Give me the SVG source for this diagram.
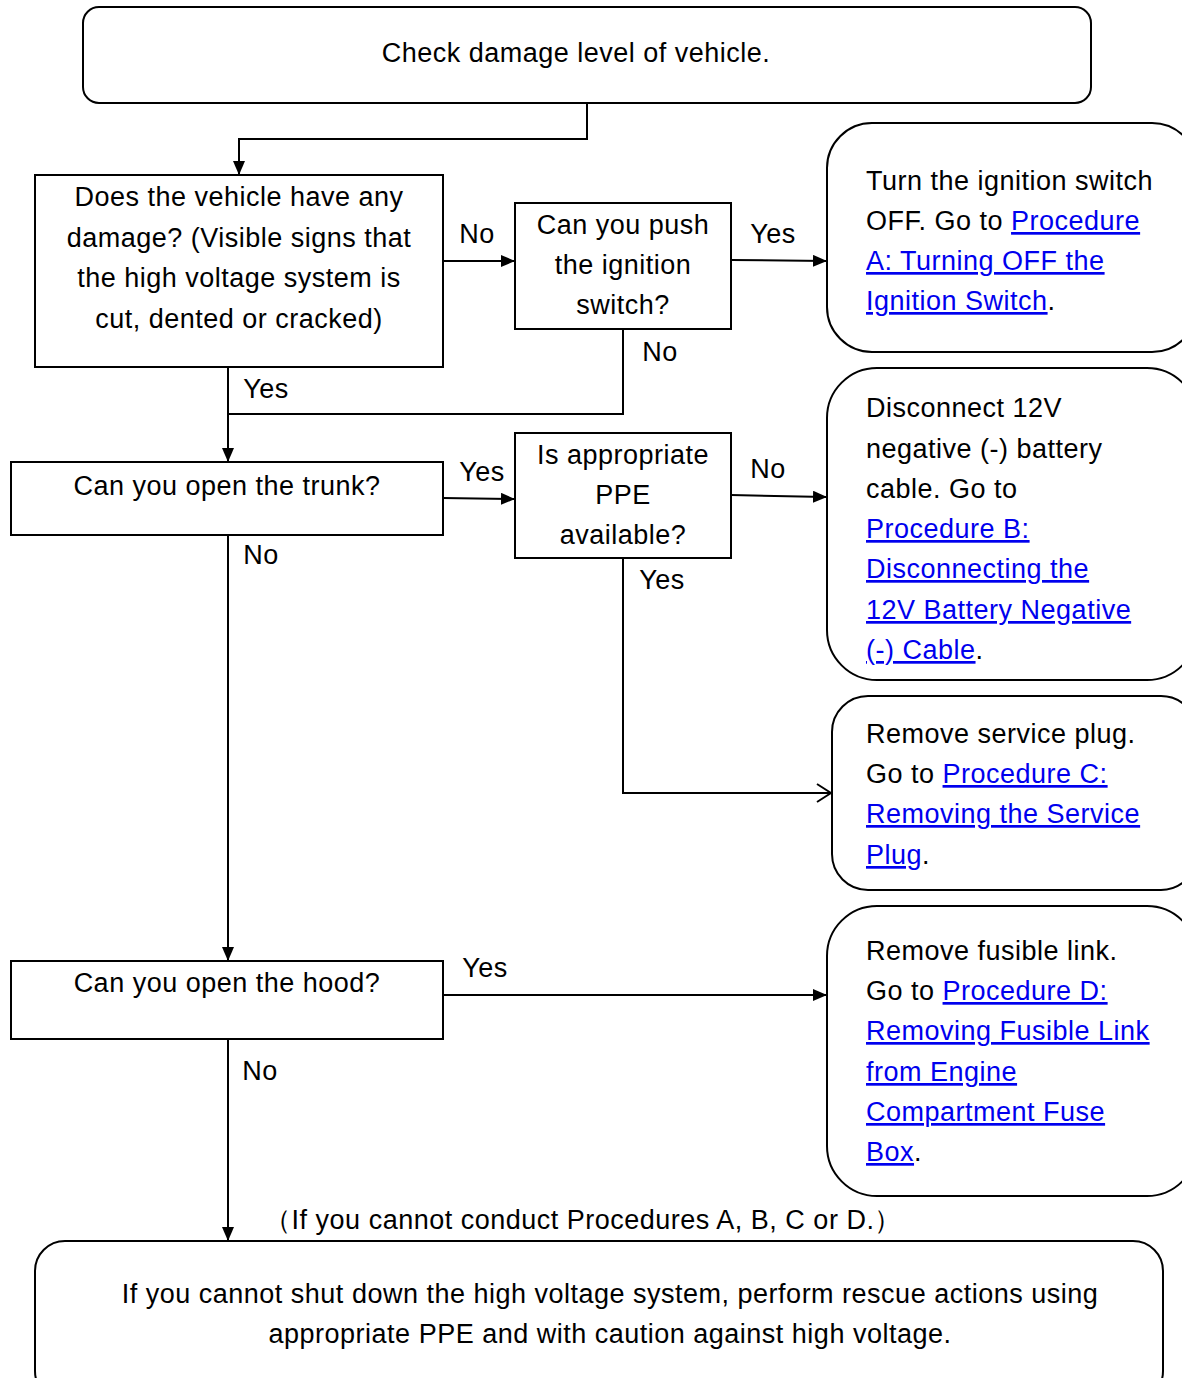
<svg xmlns="http://www.w3.org/2000/svg" width="1182" height="1378" viewBox="0 0 1182 1378">
<style>
text{font-family:"Liberation Sans",Arial,sans-serif;font-size:27px;letter-spacing:0.5px;fill:#000}
.c{text-anchor:middle}
.lk{fill:#0000ee;text-decoration:underline}
.box{fill:#fff;stroke:#000;stroke-width:2}
.ln{fill:none;stroke:#000;stroke-width:2}
</style>
<defs>
<marker id="ah" markerWidth="14" markerHeight="12" refX="13" refY="6" orient="auto" markerUnits="userSpaceOnUse">
<path d="M0,0 L14,6 L0,12 Z" fill="#000"/>
</marker>
<marker id="oh" markerWidth="16" markerHeight="20" refX="15" refY="10" orient="auto" markerUnits="userSpaceOnUse">
<path d="M1,1 L15,10 L1,19" fill="none" stroke="#000" stroke-width="2"/>
</marker>
</defs>

<g id="connectors">
<path class="ln" d="M587,103 V139 H239 V174" marker-end="url(#ah)"/>
<path class="ln" d="M443,261 H514" marker-end="url(#ah)"/>
<path class="ln" d="M731,260 L826,261" marker-end="url(#ah)"/>
<path class="ln" d="M623,329 V414 H228"/>
<path class="ln" d="M228,367 V461" marker-end="url(#ah)"/>
<path class="ln" d="M443,498 L514,499" marker-end="url(#ah)"/>
<path class="ln" d="M731,495 L826,497" marker-end="url(#ah)"/>
<path class="ln" d="M623,558 V793 H831" marker-end="url(#oh)"/>
<path class="ln" d="M228,535 V960" marker-end="url(#ah)"/>
<path class="ln" d="M443,995 H826" marker-end="url(#ah)"/>
<path class="ln" d="M228,1039 V1240" marker-end="url(#ah)"/>
<text x="477" y="243" class="c">No</text>
<text x="773" y="243" class="c">Yes</text>
<text x="660" y="361" class="c">No</text>
<text x="266" y="398" class="c">Yes</text>
<text x="482" y="481" class="c">Yes</text>
<text x="768" y="478" class="c">No</text>
<text x="662" y="589" class="c">Yes</text>
<text x="261" y="564" class="c">No</text>
<text x="485" y="977" class="c">Yes</text>
<text x="260" y="1080" class="c">No</text>
<text x="583" y="1229" class="c">（If you cannot conduct Procedures A, B, C or D.）</text>
</g>

<g id="start">
<rect class="box" x="83" y="7" width="1008" height="96" rx="16"/>
<text x="576" y="62" class="c">Check damage level of vehicle.</text>
</g>

<g id="q-damage">
<rect class="box" x="35" y="175" width="408" height="192"/>
<text x="239" y="206" class="c">Does the vehicle have any</text>
<text x="239" y="247" class="c">damage? (Visible signs that</text>
<text x="239" y="287" class="c">the high voltage system is</text>
<text x="239" y="328" class="c">cut, dented or cracked)</text>
</g>

<g id="q-ignition">
<rect class="box" x="515" y="203" width="216" height="126"/>
<text x="623" y="234" class="c">Can you push</text>
<text x="623" y="274" class="c">the ignition</text>
<text x="623" y="314" class="c">switch?</text>
</g>

<g id="proc-a">
<rect class="box" x="827" y="123" width="370" height="229" rx="45"/>
<text x="866" y="190">Turn the ignition switch</text>
<text x="866" y="230">OFF. Go to <tspan class="lk">Procedure</tspan></text>
<text x="866" y="270"><tspan class="lk">A: Turning OFF the</tspan></text>
<text x="866" y="310"><tspan class="lk">Ignition Switch</tspan>.</text>
</g>

<g id="q-trunk">
<rect class="box" x="11" y="462" width="432" height="73"/>
<text x="227" y="495" class="c">Can you open the trunk?</text>
</g>

<g id="q-ppe">
<rect class="box" x="515" y="433" width="216" height="125"/>
<text x="623" y="464" class="c">Is appropriate</text>
<text x="623" y="504" class="c">PPE</text>
<text x="623" y="544" class="c">available?</text>
</g>

<g id="proc-b">
<rect class="box" x="827" y="368" width="370" height="312" rx="50"/>
<text x="866" y="417">Disconnect 12V</text>
<text x="866" y="458">negative (-) battery</text>
<text x="866" y="498">cable. Go to</text>
<text x="866" y="538"><tspan class="lk">Procedure B:</tspan></text>
<text x="866" y="578"><tspan class="lk">Disconnecting the</tspan></text>
<text x="866" y="619"><tspan class="lk">12V Battery Negative</tspan></text>
<text x="866" y="659"><tspan class="lk">(-) Cable</tspan>.</text>
</g>

<g id="proc-c">
<rect class="box" x="832" y="696" width="365" height="194" rx="36"/>
<text x="866" y="743">Remove service plug.</text>
<text x="866" y="783">Go to <tspan class="lk">Procedure C:</tspan></text>
<text x="866" y="823"><tspan class="lk">Removing the Service</tspan></text>
<text x="866" y="864"><tspan class="lk">Plug</tspan>.</text>
</g>

<g id="q-hood">
<rect class="box" x="11" y="961" width="432" height="78"/>
<text x="227" y="992" class="c">Can you open the hood?</text>
</g>

<g id="proc-d">
<rect class="box" x="827" y="906" width="370" height="290" rx="50"/>
<text x="866" y="960">Remove fusible link.</text>
<text x="866" y="1000">Go to <tspan class="lk">Procedure D:</tspan></text>
<text x="866" y="1040"><tspan class="lk">Removing Fusible Link</tspan></text>
<text x="866" y="1081"><tspan class="lk">from Engine</tspan></text>
<text x="866" y="1121"><tspan class="lk">Compartment Fuse</tspan></text>
<text x="866" y="1161"><tspan class="lk">Box</tspan>.</text>
</g>

<g id="rescue">
<rect class="box" x="35" y="1241" width="1128" height="160" rx="30"/>
<text x="610" y="1303" class="c">If you cannot shut down the high voltage system, perform rescue actions using</text>
<text x="610" y="1343" class="c">appropriate PPE and with caution against high voltage.</text>
</g>
</svg>
